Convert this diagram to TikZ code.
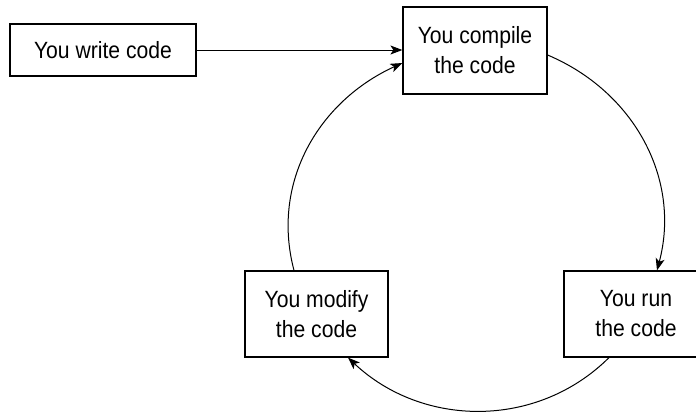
\documentclass[tikz,border=0pt]{standalone}
\usepackage{fontspec}
\setmainfont{Liberation Sans}[FakeStretch=0.9]
\usetikzlibrary{arrows.meta}
\begin{document}
\begin{tikzpicture}[x=1pt,y=1pt,
  stepbox/.style={draw,line width=1.2pt,align=center,inner sep=0pt,
    font=\fontsize{23.5}{30}\selectfont},
  conn/.style={line width=1pt,-{Stealth[length=12pt,width=9pt,inset=3pt]}}]
\useasboundingbox (0,0) rectangle (696,-413);
\node[stepbox,minimum width=186pt,minimum height=52pt] (write) at (103,-50) {You write code};
\node[stepbox,minimum width=144pt,minimum height=87pt] (compile) at (475,-50.5) {You compile\\the code};
\node[stepbox,minimum width=143pt,minimum height=86pt] (modify) at (316.5,-314) {You modify\\the code};
\node[stepbox,minimum width=144pt,minimum height=86pt] (run) at (636,-314) {You run\\the code};
\draw[conn] (write.east) -- (write.east -| compile.west);
\draw[conn] ([yshift=-4.5pt]compile.east) to[out=-22.9,in=75.1] ([xshift=21pt]run.north);
\draw[conn] ([xshift=-27pt]run.south) to[out=-135.2,in=-43.3] ([xshift=31.5pt]modify.south);
\draw[conn] ([xshift=-22.5pt]modify.north) to[out=104.8,in=204.5] ([yshift=-12.5pt]compile.west);
\end{tikzpicture}
\end{document}
